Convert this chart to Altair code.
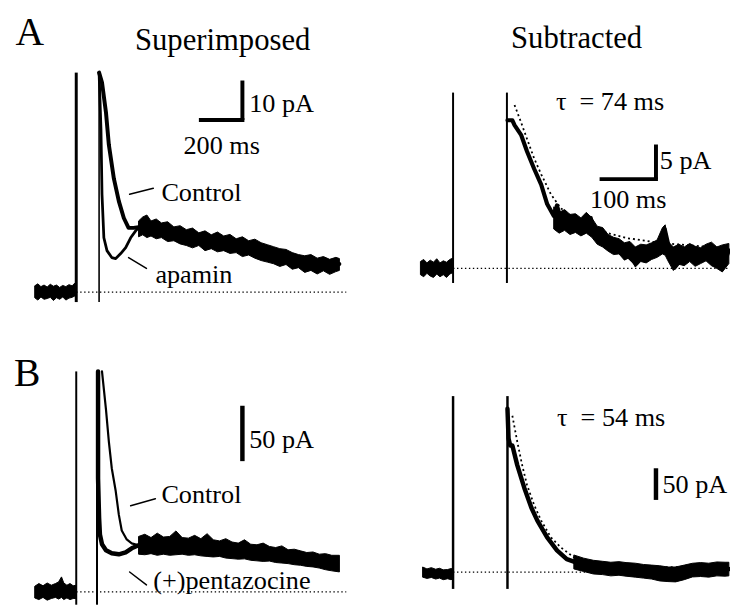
import altair as alt
import pandas as pd

FONT = "Liberation Serif"

# ================= Panel A, Superimposed  (time ms, current pA) =================
A1_pre_t = [-200, -185, -170, -155, -140, -125, -110, -95, -80, -65, -50, -35, -20, -5, 0]
A1_pre_hi = [1.6, 2.1, 1.4, 1.8, 1.3, 2.0, 1.5, 1.8, 1.2, 1.7, 1.4, 1.9, 1.6, 2.4, 2.4]
A1_pre_lo = [-1.4, -2.0, -1.2, -1.8, -1.6, -1.3, -2.1, -1.4, -1.8, -1.2, -2.0, -1.5, -1.3, -0.9, -0.9]

A1_ctrl_t = [110, 124, 143, 157, 181, 205, 229, 252, 276, 300, 348, 429, 538, 695, 857, 1014, 1095, 1171, 1267]
A1_ctrl_i = [55.5, 53, 45.5, 37.25, 28.75, 23, 18.75, 16.25, 16.25, 16.4, 16.75, 15.25, 13.25, 12.25, 11, 9, 7.5, 7.1, 7.1]

A1_apa_t = [110, 119, 124, 133, 148, 171, 190, 214, 238, 262, 286, 300]
A1_apa_i = [55.5, 41.25, 24.75, 13.75, 10.5, 8.75, 8.5, 9.75, 11.25, 13.75, 15.5, 16.25]

A1_tail_t = [300, 320, 340, 360, 385, 410, 440, 470, 500, 530, 560, 590, 620, 650, 680, 710, 740, 770,
             800, 830, 860, 890, 920, 950, 980, 1010, 1040, 1070, 1100, 1130, 1160, 1190, 1220, 1250, 1267]
A1_tail_hi = [18.0, 19.0, 19.5, 18.0, 18.5, 17.5, 17.8, 16.5, 16.8, 15.8, 16.2, 15.0, 15.5, 14.5, 15.2, 14.2,
              14.6, 13.5, 14.0, 13.0, 13.4, 12.5, 12.0, 11.5, 11.0, 10.8, 10.0, 9.5, 9.2, 9.5, 8.6, 9.0, 8.3,
              8.8, 8.5]
A1_tail_lo = [14.0, 14.5, 13.8, 14.2, 13.5, 13.8, 12.8, 13.0, 12.2, 11.8, 11.2, 11.8, 10.5, 11.0, 10.2, 10.5,
              9.8, 10.0, 9.0, 9.4, 8.6, 8.0, 7.6, 7.2, 6.5, 7.0, 5.8, 6.2, 5.0, 5.5, 4.6, 5.4, 4.5, 5.2, 5.5]

A1_art_t = [0, 110]
A1_art_range = [-2.5, 55.5]
A1_base_t = [0, 1300]

A1_bar_t = [600, 800]
A1_bar_i = [43.5, 53.5]

A1_left_text = ["Control", "apamin", "10 pA"]
A1_left_t = [410, 381, 833]
A1_left_i = [23, 2.25, 45.5]
A1_lead_ctrl_t, A1_lead_ctrl_i = [257, 371], [24.75, 26.25]
A1_lead_apa_t, A1_lead_apa_i = [252, 338], [8.75, 6]
A1_ms_text, A1_ms_t, A1_ms_i = ["200 ms"], [700], [35]
A1_title, A1_title_t, A1_title_i = ["Superimposed"], [705], [61.3]
A1_letter, A1_letter_t, A1_letter_i = ["A"], [-224], [62.6]

# ================= Panel A, Subtracted =================
A2_pre_t = [-60, -54, -48, -42, -36, -30, -24, -18, -12, -6, 0]
A2_pre_hi = [1.0, 1.3, 0.8, 1.2, 0.9, 1.4, 0.8, 1.1, 0.9, 1.3, 1.5]
A2_pre_lo = [-0.9, -1.2, -0.7, -1.1, -1.3, -0.8, -1.2, -0.9, -1.3, -0.8, -0.6]

A2_art_t = [0, 99]
A2_art_range = [-2.1, 25.4]
A2_base_t = [0, 507]

A2_trace_t = [100, 109, 113, 125, 136, 149, 162, 173, 185, 191, 198, 209, 235, 245, 253, 258, 271, 295,
              318, 336, 349, 362, 380, 389, 398, 407, 427, 453, 476, 495, 507]
A2_trace_i = [21.4, 21.4, 20.7, 19.3, 16.9, 14.4, 12.1, 9.3, 7.6, 9.1, 7.1, 6.4, 5.9, 6.6, 7.3, 5.4, 4.0, 3.0,
              2.1, 0.7, 1.9, 2.1, 2.6, 5.7, 2.6, 0.1, 2.1, 1.6, 2.6, 0.1, 2.6]
A2_env_t = [185, 195, 205, 215, 225, 235, 245, 255, 265, 275, 285, 295, 305, 315, 325, 335, 345, 355, 365,
            375, 385, 390, 395, 405, 415, 425, 435, 445, 455, 465, 475, 485, 495, 507]
A2_env_hi = [8.9, 8.1, 8.5, 7.8, 7.9, 7.3, 8.1, 7.3, 6.1, 5.9, 4.9, 4.5, 4.3, 3.7, 3.9, 3.1, 3.5, 3.4, 3.7,
             4.1, 5.9, 6.3, 3.9, 3.1, 3.5, 3.1, 3.6, 3.2, 3.0, 3.5, 3.8, 3.1, 3.4, 3.6]
A2_env_lo = [5.7, 5.1, 5.5, 4.9, 5.2, 4.7, 5.1, 4.5, 3.5, 3.1, 2.5, 2.0, 2.1, 1.2, 1.6, 0.2, 1.0, 0.8, 1.3,
             1.6, 2.1, 1.9, 1.1, -0.3, 0.6, 0.4, 1.0, 0.3, 0.7, 1.1, 0.4, 0.0, -0.5, 0.7]
A2_fit_t = [113, 125, 136, 149, 162, 180, 198, 222, 258, 289, 318, 380, 440, 507]
A2_fit_i = [23.6, 21.1, 18.7, 15.9, 13.6, 10.7, 8.7, 7.3, 5.9, 5.0, 4.4, 3.7, 3.3, 2.9]

A2_bar_t = [273, 373]
A2_bar_i = [12.9, 17.9]
A2_left_text = ["\u03c4\u00a0\u00a0= 74 ms", "5 pA"]
A2_left_t = [189, 380]
A2_left_i = [22.9, 14.3]
A2_ms_text, A2_ms_t, A2_ms_i = ["100 ms"], [322], [8.7]
A2_title, A2_title_t, A2_title_i = ["Subtracted"], [227], [31.9]

# ================= Panel B, Superimposed =================
B1_pre_t = [-200, -180, -160, -140, -120, -100, -85, -71, -60, -45, -30, -15, 0]
B1_pre_hi = [5, 7.5, 5.5, 8, 6, 7.5, 9, 13.5, 8, 6, 7.5, 5.5, 6]
B1_pre_lo = [-5.5, -7, -5, -7.5, -6, -5, -6.5, -5, -7, -5.5, -7, -6, -6]

B1_art_t = [0, 100]
B1_art_range = [-11.6, 199]
B1_base_t = [0, 1300]

B1_pent_t = [105, 105, 110, 114, 124, 143, 171, 205, 238, 267, 300]
B1_pent_i = [199, 102.7, 67, 51.8, 42.9, 37.5, 34.8, 33.9, 35.7, 39.3, 42]
B1_ctrl_t = [124, 143, 157, 171, 190, 205, 219, 243, 267, 300]
B1_ctrl_i = [199, 165, 135.7, 111.6, 91, 69.7, 55.4, 47.3, 43.8, 42]
B1_tail_t = [300, 330, 360, 390, 420, 450, 480, 510, 540, 570, 600, 630, 660, 690, 720, 750, 780, 810, 840,
             870, 900, 930, 960, 990, 1020, 1050, 1080, 1110, 1140, 1170, 1200, 1230, 1267]
B1_tail_hi = [50, 52, 49, 53, 49.5, 50, 55, 49, 48.5, 51, 48, 52.5, 47, 46, 48, 45, 44, 47, 43, 42.5, 44, 41,
              40, 41.5, 38, 38.5, 37, 35.5, 36, 34, 34.5, 33, 33]
B1_tail_lo = [34, 33.5, 34.5, 33, 34, 33, 33.5, 34, 33, 33.5, 32.5, 32, 31.5, 32, 30.5, 30, 29.5, 29.8, 28.5,
              28, 27.5, 27.8, 26.5, 26, 25.5, 24.5, 24, 23, 22.5, 21.5, 20, 19, 18]

B1_bar_t = [800]
B1_bar_i = [118, 168]
B1_left_text = ["Control", "(+)pentazocine", "50 pA"]
B1_left_t = [410, 371, 833]
B1_left_i = [80.4, 2.7, 129.5]
B1_lead_ctrl_t, B1_lead_ctrl_i = [262, 381], [77.7, 84]
B1_lead_pent_t, B1_lead_pent_i = [257, 338], [17.9, 6.3]
B1_letter, B1_letter_t, B1_letter_i = ["B"], [-236], [185.7]

# ================= Panel B, Subtracted =================
B2_pre_t = [-56, -48, -40, -32, -25, -18, -10, -4, 0]
B2_pre_hi = [8, 5, 7, 4.5, 6, 3.5, 4, 5.5, 5]
B2_pre_lo = [-8, -10, -8.5, -11, -9.5, -12, -10.5, -12, -11]

B2_art_t = [0, 100]
B2_art_range = [-26.6, 278]
B2_base_t = [0, 507]

B2_trace_t = [100, 102, 105, 109, 118, 131, 144, 155, 173, 191, 209, 235, 258, 289, 318, 349, 380, 409, 440, 471, 507]
B2_trace_i = [258, 211, 200, 200, 169, 133, 101.6, 81.3, 54.7, 34.4, 20.3, 12.5, 7.8, 4.7, 4.7, 0, -3.1, -3.1, 3.1, 3.1, 4.7]
B2_env_t = [222, 240, 258, 275, 290, 305, 318, 335, 350, 365, 380, 395, 409, 425, 440, 455, 470, 485, 500, 507]
B2_env_hi = [27, 22, 18.6, 17, 15.5, 16.5, 15, 14, 12, 11, 10, 8, 8, 11, 13.9, 15, 14, 16, 15.5, 15.5]
B2_env_lo = [5, 1, -3, -4, -6, -5, -6.5, -8, -9.5, -11, -14, -15, -15.5, -12, -7.7, -7, -8, -6, -6.5, -6]
B2_fit_t = [109, 118, 127, 136, 149, 162, 180, 198, 222, 258, 318, 380, 507]
B2_fit_i = [247, 206, 169, 137.5, 106, 81.3, 54.7, 39, 23.4, 12.5, 7.8, 7.8, 7.8]

B2_bar_t = [373]
B2_bar_i = [114, 164]
B2_left_text = ["\u03c4\u00a0\u00a0= 54 ms", "50 pA"]
B2_left_t = [191, 385]
B2_left_i = [231, 125]


# ---------------- helpers ----------------
def lin_scale(domain, page0, px_per_unit, invert=False):
    sign = -1 if invert else 1
    rng = [page0 + sign * d * px_per_unit - 8 for d in domain]
    return alt.Scale(domain=domain, range=rng, nice=False, zero=False)


class Panel:
    def __init__(self, xs, ys):
        self.xs, self.ys, self.layers = xs, ys, []

    def X(self, f="t"):
        return alt.X(f + ":Q", scale=self.xs, axis=None)

    def Y(self, f="I"):
        return alt.Y(f + ":Q", scale=self.ys, axis=None)

    def line(self, t, i, width, dash=None):
        df = pd.DataFrame({"t": t, "I": i, "k": range(len(t))})
        kw = dict(color="black", strokeWidth=width, strokeJoin="round", strokeCap="round")
        if dash:
            kw["strokeDash"] = dash
            kw["strokeCap"] = "butt"
        self.layers.append(alt.Chart(df).mark_line(**kw).encode(
            x=self.X(), y=self.Y(), order=alt.Order("k:Q")))

    def band(self, t, hi, lo):
        df = pd.DataFrame({"t": t, "I": hi, "I2": lo})
        self.layers.append(alt.Chart(df).mark_area(
            color="black", interpolate="linear", stroke="black", strokeWidth=1).encode(
            x=self.X(), y=self.Y(), y2=alt.Y2("I2:Q")))

    def vrules(self, t, lo, hi, width):
        df = pd.DataFrame({"t": t, "I": [lo] * len(t), "I2": [hi] * len(t)})
        self.layers.append(alt.Chart(df).mark_rule(color="black", strokeWidth=width).encode(
            x=self.X(), y=self.Y(), y2=alt.Y2("I2:Q")))

    def hrule(self, t, i, width, dash=None, cap="square"):
        df = pd.DataFrame({"t": [t[0]], "t2": [t[1]], "I": [i]})
        kw = dict(color="black", strokeWidth=width, strokeCap=cap)
        if dash:
            kw["strokeDash"] = dash
            kw["strokeCap"] = "butt"
        self.layers.append(alt.Chart(df).mark_rule(**kw).encode(
            x=self.X(), x2=alt.X2("t2:Q"), y=self.Y()))

    def text(self, labels, t, i, size, align="left"):
        df = pd.DataFrame({"t": t, "I": i, "label": labels})
        self.layers.append(alt.Chart(df).mark_text(
            font=FONT, fontSize=size, align=align, baseline="alphabetic", color="black").encode(
            x=self.X(), y=self.Y(), text="label:N"))

    def chart(self):
        return alt.layer(*self.layers)


DOT_BASE = [1.4, 2.6]
DOT_FIT = [2, 3]
LABEL = 26.5
TITLE = 31
LETTER = 40

# ---------- A left ----------
xa = lin_scale([-300, 1400], 77, 0.21)
p = Panel(xa, lin_scale([-10, 70], 292, 4, invert=True))
p.band(A1_pre_t, A1_pre_hi, A1_pre_lo)
p.hrule(A1_base_t, 0, 1.2, dash=DOT_BASE)
p.vrules(A1_art_t[:1], A1_art_range[0], A1_art_range[1], 3)
p.vrules(A1_art_t[1:], A1_art_range[0], A1_art_range[1], 1.6)
p.band(A1_tail_t, A1_tail_hi, A1_tail_lo)
p.line(A1_ctrl_t, A1_ctrl_i, 4)
p.line(A1_apa_t, A1_apa_i, 2.8)
p.vrules(A1_bar_t[1:], A1_bar_i[0], A1_bar_i[1], 4)
p.hrule(A1_bar_t, A1_bar_i[0], 4)
p.line(A1_lead_ctrl_t, A1_lead_ctrl_i, 1.5)
p.line(A1_lead_apa_t, A1_lead_apa_i, 1.5)
p.text(A1_left_text, A1_left_t, A1_left_i, LABEL)
p.text(A1_ms_text, A1_ms_t, A1_ms_i, LABEL, align="center")
p.text(A1_title, A1_title_t, A1_title_i, TITLE, align="center")
p.text(A1_letter, A1_letter_t, A1_letter_i, LETTER, align="center")
AL = p.chart()

# ---------- A right ----------
xr = lin_scale([-100, 540], 458, 0.55)
p = Panel(xr, lin_scale([-5, 36], 268, 7, invert=True))
p.band(A2_pre_t, A2_pre_hi, A2_pre_lo)
p.hrule(A2_base_t, 0, 1.2, dash=DOT_BASE)
p.vrules(A2_art_t, A2_art_range[0], A2_art_range[1], 2)
p.band(A2_env_t, A2_env_hi, A2_env_lo)
p.line(A2_trace_t, A2_trace_i, 4.2)
p.line(A2_fit_t, A2_fit_i, 1.8, dash=DOT_FIT)
p.vrules(A2_bar_t[1:], A2_bar_i[0], A2_bar_i[1], 4)
p.hrule(A2_bar_t, A2_bar_i[0], 4)
p.text(A2_left_text, A2_left_t, A2_left_i, LABEL)
p.text(A2_ms_text, A2_ms_t, A2_ms_i, LABEL, align="center")
p.text(A2_title, A2_title_t, A2_title_i, TITLE, align="center")
AR = p.chart()

# ---------- B left ----------
p = Panel(xa, lin_scale([-20, 250], 595, 1.12, invert=True))
p.band(B1_pre_t, B1_pre_hi, B1_pre_lo)
p.hrule(B1_base_t, 0, 1.2, dash=DOT_BASE)
p.vrules(B1_art_t, B1_art_range[0], B1_art_range[1], 2)
p.band(B1_tail_t, B1_tail_hi, B1_tail_lo)
p.line(B1_pent_t, B1_pent_i, 4.5)
p.line(B1_ctrl_t, B1_ctrl_i, 2.2)
p.vrules(B1_bar_t, B1_bar_i[0], B1_bar_i[1], 4.5)
p.line(B1_lead_ctrl_t, B1_lead_ctrl_i, 1.5)
p.line(B1_lead_pent_t, B1_lead_pent_i, 1.5)
p.text(B1_left_text, B1_left_t, B1_left_i, LABEL)
p.text(B1_letter, B1_letter_t, B1_letter_i, LETTER, align="center")
BL = p.chart()

# ---------- B right ----------
p = Panel(xr, lin_scale([-40, 300], 575, 0.64, invert=True))
p.band(B2_pre_t, B2_pre_hi, B2_pre_lo)
p.hrule(B2_base_t, 0, 1.2, dash=DOT_BASE)
p.vrules(B2_art_t, B2_art_range[0], B2_art_range[1], 2.5)
p.band(B2_env_t, B2_env_hi, B2_env_lo)
p.line(B2_trace_t, B2_trace_i, 4.5)
p.line(B2_fit_t, B2_fit_i, 1.8, dash=DOT_FIT)
p.vrules(B2_bar_t, B2_bar_i[0], B2_bar_i[1], 4.5)
p.text(B2_left_text, B2_left_t, B2_left_i, LABEL)
BR = p.chart()

chart = alt.layer(AL, AR, BL, BR).resolve_scale(
    x="independent", y="independent"
).properties(
    width=730, height=600, padding=0, background="white",
    autosize=alt.AutoSizeParams(type="none"),
).configure_view(strokeWidth=0)

chart.save("out.html", embed_options={"renderer": "svg", "actions": False})
